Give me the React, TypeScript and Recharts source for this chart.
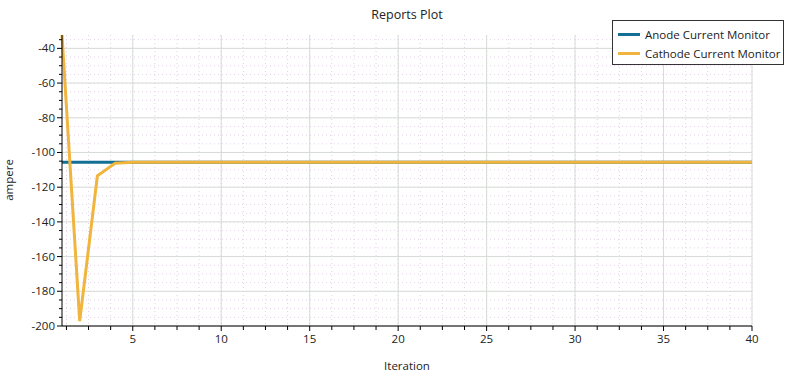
import { LineChart, Line, XAxis, YAxis, CartesianGrid } from 'recharts';

const iterations = [
  1, 2, 3, 4, 5, 6, 7, 8, 9, 10, 11, 12, 13, 14, 15, 16, 17, 18, 19, 20,
  21, 22, 23, 24, 25, 26, 27, 28, 29, 30, 31, 32, 33, 34, 35, 36, 37, 38, 39, 40,
];
const anode = [
  -105.6, -105.6, -105.6, -105.6, -105.6, -105.6, -105.6, -105.6, -105.6, -105.6,
  -105.6, -105.6, -105.6, -105.6, -105.6, -105.6, -105.6, -105.6, -105.6, -105.6,
  -105.6, -105.6, -105.6, -105.6, -105.6, -105.6, -105.6, -105.6, -105.6, -105.6,
  -105.6, -105.6, -105.6, -105.6, -105.6, -105.6, -105.6, -105.6, -105.6, -105.6,
];
const cathode = [
  -32.3, -197.2, -113.5, -106.2, -105.6, -105.6, -105.6, -105.6, -105.6, -105.6,
  -105.6, -105.6, -105.6, -105.6, -105.6, -105.6, -105.6, -105.6, -105.6, -105.6,
  -105.6, -105.6, -105.6, -105.6, -105.6, -105.6, -105.6, -105.6, -105.6, -105.6,
  -105.6, -105.6, -105.6, -105.6, -105.6, -105.6, -105.6, -105.6, -105.6, -105.6,
];

const xMajor = [5, 10, 15, 20, 25, 30, 35, 40];
const xMinor = [
  1.25, 2.5, 3.75, 5, 6.25, 7.5, 8.75, 10, 11.25, 12.5, 13.75, 15, 16.25, 17.5, 18.75, 20,
  21.25, 22.5, 23.75, 25, 26.25, 27.5, 28.75, 30, 31.25, 32.5, 33.75, 35, 36.25, 37.5, 38.75, 40,
];
const yMajor = [-200, -180, -160, -140, -120, -100, -80, -60, -40];
const yMinor = [
  -200, -195, -190, -185, -180, -175, -170, -165, -160, -155, -150, -145, -140, -135, -130,
  -125, -120, -115, -110, -105, -100, -95, -90, -85, -80, -75, -70, -65, -60, -55, -50, -45,
  -40, -35,
];

const series = [
  { key: 'anode', name: 'Anode Current Monitor', color: '#136f93' },
  { key: 'cathode', name: 'Cathode Current Monitor', color: '#f1b43c' },
];

const data = iterations.map((it, i) => ({ it, anode: anode[i], cathode: cathode[i] }));

const FONT = '"Open Sans", sans-serif';

function XTick({ x, y, payload }: any) {
  const major = xMajor.includes(payload.value);
  return (
    <g>
      <line x1={x} x2={x} y1={y} y2={y + (major ? 5 : 4)} stroke='#000' />
      {major && (
        <text x={x} y={y + 17} textAnchor='middle' fontSize={11.5} fill='#222' fontFamily={FONT}>
          {payload.value}
        </text>
      )}
    </g>
  );
}

function YTick({ x, y, payload }: any) {
  const major = yMajor.includes(payload.value);
  return (
    <g>
      <line x1={x - (major ? 5 : 3)} x2={x} y1={y} y2={y} stroke='#000' />
      {major && (
        <text x={x - 7} y={y + 4} textAnchor='end' fontSize={11.5} fill='#222' fontFamily={FONT}>
          {payload.value}
        </text>
      )}
    </g>
  );
}

function LegendBox() {
  return (
    <div
      style={{
        position: 'absolute',
        left: 612,
        top: 20,
        border: '1px solid #333',
        background: '#fff',
        width: 172,
        height: 45,
        boxSizing: 'border-box',
        fontFamily: FONT,
        fontSize: 11.5,
        color: '#222',
        padding: '4px 0 0 5px',
      }}
    >
      {series.map((s) => (
        <div key={s.key} style={{ display: 'flex', alignItems: 'center', height: 19 }}>
          <span style={{ display: 'inline-block', width: 22, height: 3, background: s.color, marginRight: 5 }} />
          {s.name}
        </div>
      ))}
    </div>
  );
}

export default function App() {
  return (
    <div style={{ position: 'absolute', left: 0, top: 0, width: 786, height: 376, background: '#fff' }}>
      <LineChart width={786} height={376} data={data} margin={{ top: 35, right: 34, bottom: 0, left: 0 }}>
        <CartesianGrid
          verticalValues={xMinor}
          horizontalValues={yMinor}
          stroke='#e3d3e6'
          strokeDasharray='1 3'
        />
        <CartesianGrid verticalValues={xMajor} horizontalValues={yMajor} stroke='#d6dcd6' />
        <XAxis
          dataKey='it'
          type='number'
          domain={[1, 40]}
          ticks={xMinor}
          interval={0}
          height={50}
          tickSize={0}
          tickMargin={0}
          tickLine={false}
          tick={<XTick />}
          axisLine={{ stroke: '#000' }}
          label={{ value: 'Iteration', position: 'insideBottom', offset: 6, fontSize: 11.5, fill: '#222', fontFamily: FONT }}
        />
        <YAxis
          type='number'
          domain={[-200, -32.3]}
          ticks={yMinor}
          interval={0}
          width={62}
          tickSize={0}
          tickMargin={0}
          tickLine={false}
          tick={<YTick />}
          axisLine={{ stroke: '#000' }}
        />
        {series.map((s) => (
          <Line
            key={s.key}
            type='linear'
            dataKey={s.key}
            name={s.name}
            stroke={s.color}
            strokeWidth={3}
            dot={false}
            isAnimationActive={false}
          />
        ))}
      </LineChart>
      <div
        style={{
          position: 'absolute',
          left: 62,
          width: 690,
          top: 6,
          textAlign: 'center',
          fontFamily: FONT,
          fontSize: 12.5,
          color: '#222',
        }}
      >
        Reports Plot
      </div>
      <div
        style={{
          position: 'absolute',
          left: 8,
          top: 180,
          transform: 'translate(-50%, -50%) rotate(-90deg)',
          fontFamily: FONT,
          fontSize: 11.5,
          color: '#222',
          whiteSpace: 'nowrap',
        }}
      >
        ampere
      </div>
      <LegendBox />
    </div>
  );
}
